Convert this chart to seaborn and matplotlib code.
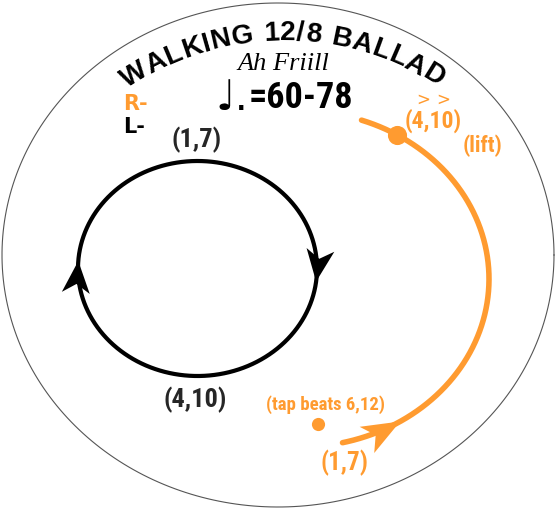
import numpy as np
import pandas as pd
import seaborn as sns
import matplotlib.pyplot as plt
from matplotlib import font_manager
from matplotlib.patches import Polygon

# text content of the sheet
title = "WALKING 12/8 BALLAD"
signature = "Ah Friill"
note = "\u2669."
tempo = "=60-78"
hand_keys = ["R-", "L-"]
left_labels = ["(1,7)", "(4,10)"]
right_labels = ["(4,10)", "(lift)", "(tap beats 6,12)", "(1,7)"]
accent = ">"

# sweep angles (degrees) of the two hand motions
left_sweep = [0, 360]
left_arrow_angles = [7, 184]
right_sweep = [-71, 77]
right_dot_angle = -59
right_arrow_angle = 58

W, H, dpi = 555, 510, 100
orange = "#FF9B30"

sns.set_theme(style="white")
names = {f.name for f in font_manager.fontManager.ttflist}
narrow = next((n for n in ["Liberation Sans Narrow", "Roboto Condensed", "Open Sans Condensed"]
               if n in names), "DejaVu Sans")
plt.rcParams["font.family"] = [narrow, "DejaVu Sans"]

fig = plt.figure(figsize=(W / dpi, H / dpi), dpi=dpi)
ax = fig.add_axes([0, 0, 1, 1])


def ellipse_df(cx, cy, rx, ry, t0, t1, n=300):
    t = np.radians(np.linspace(t0, t1, n))
    return pd.DataFrame({"x": cx + rx * np.cos(t), "y": cy + ry * np.sin(t)})


def arrowhead(cx, cy, rx, ry, ang, sign, length, width, notch, color):
    t = np.radians(ang)
    x, y = cx + rx * np.cos(t), cy + ry * np.sin(t)
    dx, dy = -rx * np.sin(t) * sign, ry * np.cos(t) * sign
    n = np.hypot(dx, dy)
    dx, dy = dx / n, dy / n
    px, py = -dy, dx
    bx, by = x - dx * length, y - dy * length
    pts = [(x, y),
           (bx + px * width / 2, by + py * width / 2),
           (x - dx * (length - notch), y - dy * (length - notch)),
           (bx - px * width / 2, by - py * width / 2)]
    ax.add_patch(Polygon(pts, closed=True, facecolor=color, lw=0, zorder=5))


# outer page outline
sns.lineplot(data=ellipse_df(278, 256, 276, 252, 0, 360), x="x", y="y", sort=False,
             estimator=None, color="#555555", lw=0.8, ax=ax)

# left hand: full loop
loop = (197.5, 269.5, 119.5, 107.5)
sns.lineplot(data=ellipse_df(*loop, *left_sweep), x="x", y="y", sort=False,
             estimator=None, color="black", lw=3.0, ax=ax)
for a in left_arrow_angles:
    arrowhead(*loop, a, 1, 32, 28, 9, "black")

# right hand: open arc
arc = (300, 280, 189, 168)
sns.lineplot(data=ellipse_df(*arc, *right_sweep), x="x", y="y", sort=False,
             estimator=None, color=orange, lw=4.0, ax=ax)
arrowhead(*arc, right_arrow_angle, -1, 38, 30, 10, orange)
t = np.radians(right_dot_angle)
ax.scatter([arc[0] + arc[2] * np.cos(t)], [arc[1] + arc[3] * np.sin(t)],
           s=190, color=orange, zorder=6, linewidths=0)
ax.scatter([318], [425], s=90, color=orange, zorder=6, linewidths=0)

# arched title: letter centres sit on a circle
fsize = 20
fp = font_manager.FontProperties(family="Liberation Sans", weight="bold", size=fsize)
renderer = fig.canvas.get_renderer()
px_size = fsize * dpi / 72
widths = [renderer.get_text_width_height_descent(c, fp, ismath=False)[0] if c != " "
          else 0.3 * px_size for c in title]
centers = np.cumsum(widths) - np.array(widths) / 2
acx, acy, rc, span = 284, 317, 287, np.radians(63.4)
rb = rc - 0.36 * px_size
gap = (rc * span - (centers[-1] - centers[0])) / (len(title) - 1)
centers = centers + gap * np.arange(len(title))
mid = (centers[0] + centers[-1]) / 2
for c, s in zip(title, centers):
    phi = (s - mid) / rc
    ax.text(acx + rb * np.sin(phi), acy - rb * np.cos(phi), c, fontproperties=fp,
            ha="center", va="baseline", rotation=-np.degrees(phi),
            rotation_mode="anchor", color="black")

ax.text(283, 64, signature, family="Liberation Serif", style="italic", size=19,
        ha="center", va="center", color="black")
ax.text(248, 110, note, family="DejaVu Sans", size=30,
        ha="right", va="baseline", color="black")
ax.text(249, 108, tempo, family=[narrow, "DejaVu Sans"], weight="bold", size=26,
        ha="left", va="baseline", color="black")

ax.text(123, 104, hand_keys[0], family="DejaVu Sans", weight="bold", size=15,
        ha="left", va="center", color=orange)
ax.text(123, 127, hand_keys[1], family="DejaVu Sans", weight="bold", size=15,
        ha="left", va="center", color="black")

ax.text(197, 140, left_labels[0], weight="bold", size=19, ha="center", va="center")
ax.text(195, 400, left_labels[1], weight="bold", size=19, ha="center", va="center")

ax.text(433, 121, right_labels[0], weight="bold", size=17, ha="center", va="center", color=orange)
ax.text(423, 100, accent, family="DejaVu Sans", size=12, ha="center", va="center", color=orange)
ax.text(443, 100, accent, family="DejaVu Sans", size=12, ha="center", va="center", color=orange)
ax.text(482, 146, right_labels[1], weight="bold", size=16, ha="center", va="center", color=orange)
ax.text(325, 405, right_labels[2], weight="bold", size=13.5, ha="center", va="center", color=orange)
ax.text(344, 463, right_labels[3], weight="bold", size=18, ha="center", va="center", color=orange)

ax.set_xlim(0, W)
ax.set_ylim(H, 0)
ax.axis("off")
fig.savefig("out.png", dpi=dpi, facecolor="white")
